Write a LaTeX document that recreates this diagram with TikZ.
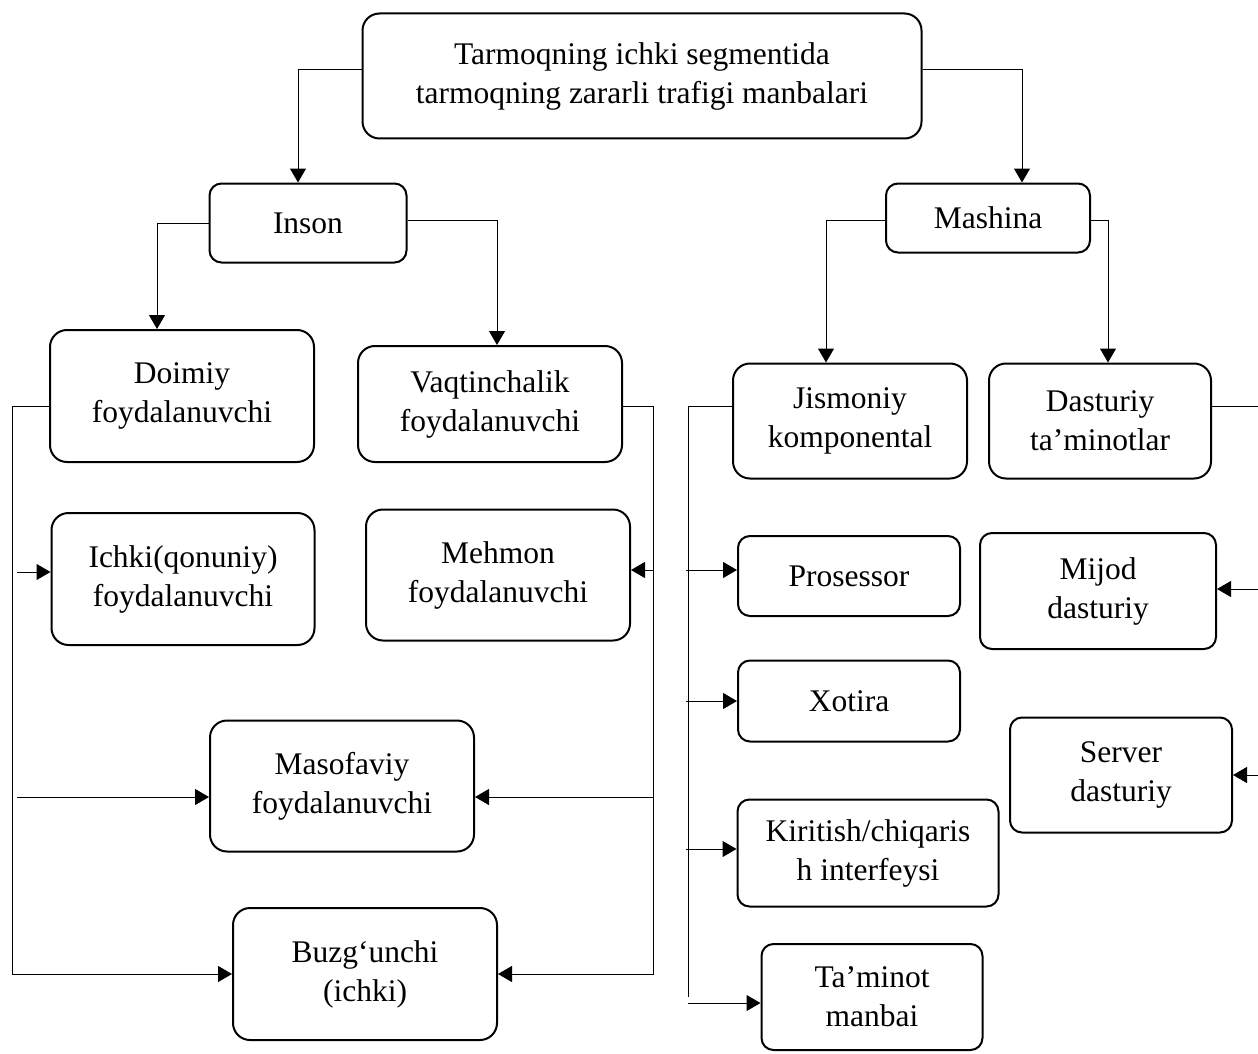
\documentclass[tikz,border=0pt]{standalone}
\usepackage{fontspec}
\setmainfont{Liberation Serif}
\usepackage{tikz}
\usetikzlibrary{arrows.meta}
\tikzset{
  srcbox/.style={draw=black,line width=2pt,rounded corners=17pt,align=center,
    inner sep=2pt,fill=white},
  smallbox/.style={srcbox,rounded corners=12pt},
  link/.style={-{Triangle[length=14pt,width=16pt]},line width=1pt},
  trunk/.style={line width=1pt}
}

\begin{document}
\begin{tikzpicture}[x=1pt,y=-1pt,font=\fontsize{31.5}{39}\selectfont]
\path[use as bounding box] (0,0) rectangle (1258,1054);

% top of the tree
\node[srcbox,minimum width=559,minimum height=125] (top) at (642,76)
  {Tarmoqning ichki segmentida\\tarmoqning zararli trafigi manbalari};
\node[smallbox,minimum width=197,minimum height=79] (inson) at (308,223) {Inson};
\node[smallbox,minimum width=204,minimum height=69] (mash) at (988,218) {Mashina};

\node[srcbox,minimum width=264,minimum height=132] (doimiy) at (182,396)
  {Doimiy\\foydalanuvchi};
\node[srcbox,minimum width=264,minimum height=116] (vaqt) at (490,404)
  {Vaqtinchalik\\foydalanuvchi};
\node[srcbox,minimum width=234,minimum height=115] (jism) at (850,421)
  {Jismoniy\\komponental};
\node[srcbox,minimum width=222,minimum height=115] (dast) at (1100,421)
  {Dasturiy\\ta’minotlar};

% left side: users
\node[srcbox,minimum width=263,minimum height=132] (ichki) at (183,579)
  {Ichki(qonuniy)\\foydalanuvchi};
\node[srcbox,minimum width=264,minimum height=131] (mehmon) at (498,575)
  {Mehmon\\foydalanuvchi};
\node[srcbox,minimum width=264,minimum height=131] (masof) at (342,786)
  {Masofaviy\\foydalanuvchi};
\node[srcbox,minimum width=264,minimum height=132] (buzg) at (365,974)
  {Buzg‘unchi\\(ichki)};

% right side: hardware and software
\node[smallbox,minimum width=222,minimum height=80] (prosr) at (849,576) {Prosessor};
\node[smallbox,minimum width=222,minimum height=81] (xotira) at (849,701) {Xotira};
\node[smallbox,minimum width=261,minimum height=107] (kirit) at (868,853)
  {Kiritish/chiqaris\\h interfeysi};
\node[smallbox,minimum width=221,minimum height=106] (tamin) at (872,997)
  {Ta’minot\\manbai};
\node[smallbox,minimum width=236,minimum height=116] (mijod) at (1098,591)
  {Mijod\\dasturiy};
\node[smallbox,minimum width=222,minimum height=115] (server) at (1121,775)
  {Server\\dasturiy};

\coordinate (ltrunk) at (12,0);
\coordinate (ltrunkb) at (17,0);
\coordinate (rtrunk) at (653,0);
\coordinate (mtrunk) at (688,0);
\coordinate (mtrunkb) at (686,0);
\coordinate (redge) at (1262,0);

\draw[link] ([yshift=6pt]top.west) -| ([xshift=-10pt]inson.north);
\draw[link] ([yshift=6pt]top.east) -| ([xshift=34pt]mash.north);
\draw[link] (inson.west) -| ([xshift=-25pt]doimiy.north);
\draw[link] ([yshift=3pt]inson.east) -| ([xshift=7pt]vaqt.north);
\draw[link] ([yshift=-2pt]mash.west) -| ([xshift=-24pt]jism.north);
\draw[link] ([yshift=-2pt]mash.east) -| ([xshift=8pt]dast.north);

% trunks with their branches
\draw[link] ([yshift=-10pt]doimiy.west) -| (ltrunk |- buzg.west) -- (buzg.west);
\draw[link] ([yshift=7pt]ichki.west -| ltrunkb) -- ([yshift=7pt]ichki.west);
\draw[link] ([yshift=-11pt]masof.west -| ltrunkb) -- ([yshift=-11pt]masof.west);

\draw[link] ([yshift=-2pt]vaqt.east) -| (rtrunk |- buzg.east) -- (buzg.east);
\draw[link] ([yshift=5pt]mehmon.east -| rtrunk) -- ([yshift=5pt]mehmon.east);
\draw[link] ([yshift=-11pt]masof.east -| rtrunk) -- ([yshift=-11pt]masof.east);

\draw[link] ([yshift=15pt]jism.west) -| (mtrunk |- tamin.west)
  ++(0,6) -- ([yshift=-6pt]tamin.west);
\draw[link] ([yshift=6pt]prosr.west -| mtrunkb) -- ([yshift=6pt]prosr.west);
\draw[link] (xotira.west -| mtrunkb) -- (xotira.west);
\draw[link] ([yshift=4pt]kirit.west -| mtrunkb) -- ([yshift=4pt]kirit.west);

\draw[trunk] ([yshift=15pt]dast.east) -- ++(60,0);
\draw[link] ([yshift=2pt]mijod.east -| redge) -- ([yshift=2pt]mijod.east);
\draw[link] (server.east -| redge) -- (server.east);
\end{tikzpicture}
\end{document}
